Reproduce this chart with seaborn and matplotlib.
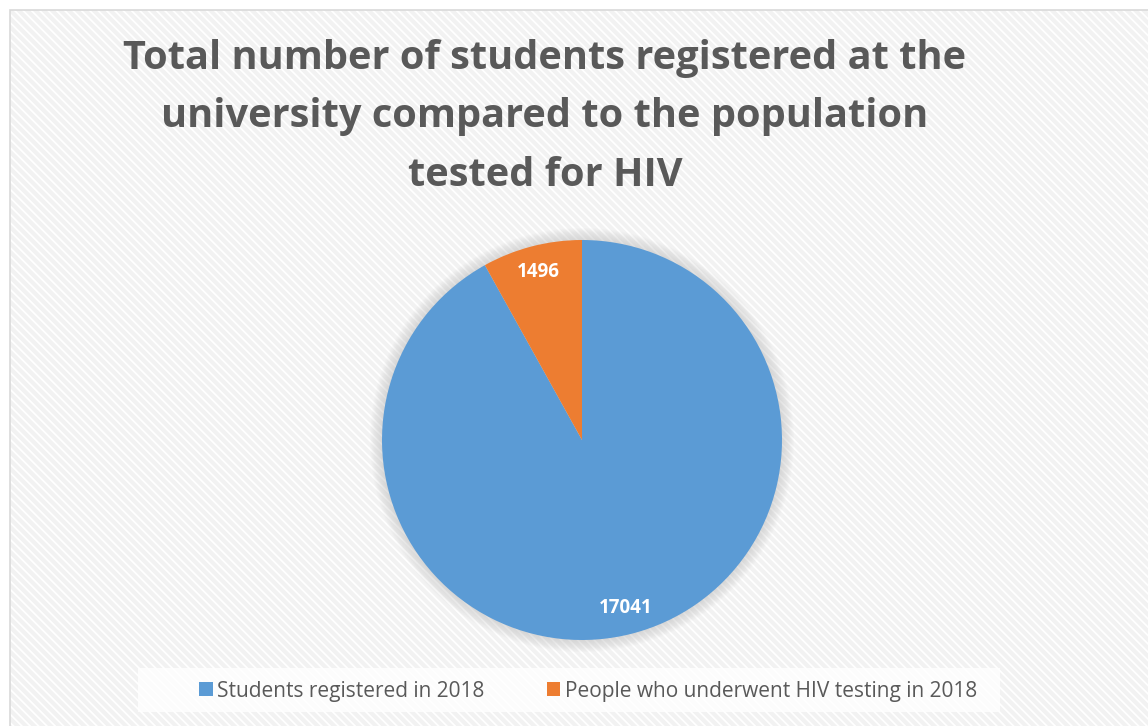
import matplotlib
matplotlib.use("Agg")
import matplotlib.pyplot as plt
from matplotlib.patches import Rectangle, Patch, Circle
import seaborn as sns

# data
labels = ["Students registered in 2018", "People who underwent HIV testing in 2018"]
values = [17041, 1496]
colors = ["#5b9bd5", "#ed7d31"]
title_lines = ["Total number of students registered at the",
               "university compared to the population",
               "tested for HIV"]

sns.set_theme(style="white")
plt.rcParams["font.family"] = ["Open Sans", "DejaVu Sans"]
plt.rcParams["hatch.linewidth"] = 3
plt.rcParams["hatch.color"] = "#f2f2f2"

W, H = 1148, 726
fig = plt.figure(figsize=(W / 100, H / 100), dpi=100)
fig.patch.set_facecolor("white")

# striped chart area with a thin border
bg = Rectangle((10 / W, -0.05), 1.1, (H - 10) / H + 0.05, transform=fig.transFigure,
               facecolor="white", edgecolor="#f2f2f2", hatch="\\\\\\\\", lw=0, zorder=-2)
fig.patches.append(bg)
frame = Rectangle((10 / W, -0.05), 1.1, (H - 10) / H + 0.05, transform=fig.transFigure,
                  facecolor="none", edgecolor="#d9d9d9", lw=1.2, zorder=-1)
fig.patches.append(frame)

# pie
cx, cy, r = 582, 440, 200
ax = fig.add_axes([(cx - r) / W, (H - cy - r) / H, 2 * r / W, 2 * r / H])
ax.set_facecolor("none")
# soft shadow round the pie
for k in range(12):
    ax.add_patch(Circle((0, 0), 1.0 + 0.005 * (12 - k), facecolor="#b0b0b0",
                        alpha=0.035, lw=0, zorder=0))
wedges, texts, autotexts = ax.pie(
    values, colors=colors, startangle=90, counterclock=False,
    autopct=lambda p: f"{round(p * sum(values) / 100):d}", pctdistance=0.87,
    wedgeprops=dict(linewidth=0, zorder=2),
    textprops=dict(color="white", fontsize=13.5, fontweight="bold"))
ax.set_xlim(-1.1, 1.1)
ax.set_ylim(-1.1, 1.1)
ax.set_aspect("equal")
ax.axis("off")
ax.set_position([(cx - 1.1 * r) / W, (H - cy - 1.1 * r) / H, 2.2 * r / W, 2.2 * r / H])

# title
for i, line in enumerate(title_lines):
    fig.text(545 / W, 1 - (58 + i * 58.5) / H, line, ha="center", va="center",
             fontsize=28.6, fontweight="bold", color="#595959")

# legend
lg_box = Rectangle((138 / W, 1 - 712 / H), (1000 - 138) / W, 44 / H, transform=fig.transFigure,
                   facecolor="white", alpha=0.8, lw=0, zorder=-1)
fig.patches.append(lg_box)
handles = [Patch(facecolor=c, edgecolor="none") for c in colors]
fig.legend(handles, labels, loc="center", bbox_to_anchor=(588 / W, 1 - 691 / H),
           ncol=2, frameon=False, fontsize=15, labelcolor="#595959",
           handlelength=0.65, handleheight=0.65, handletextpad=0.2, columnspacing=3.0)

fig.savefig("out.png", dpi=100)
